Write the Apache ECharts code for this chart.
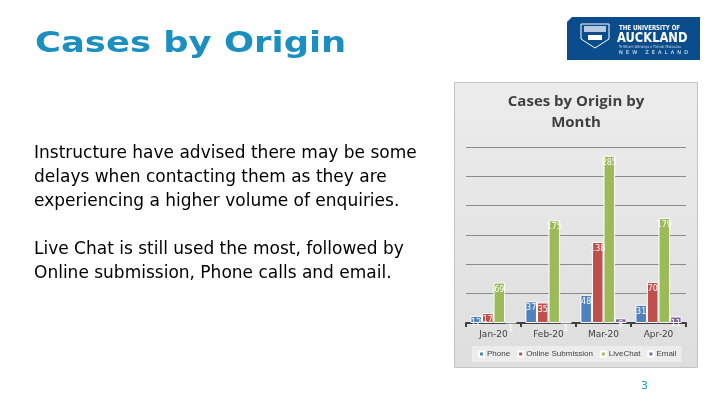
<!DOCTYPE html>
<html><head><meta charset="utf-8">
<script src="https://cdn.jsdelivr.net/npm/echarts@6/dist/echarts.min.js"></script>
<style>html,body{margin:0;padding:0;background:#fff}#c{width:720px;height:405px}</style>
</head><body><div id="c"></div>
<script>
const months = ['Jan-20','Feb-20','Mar-20','Apr-20'];
const phone = [12, 37, 48, 31];
const online = [17, 35, 138, 70];
const liveChat = [69, 175, 285, 179];
const email = [1, 1, 8, 11];
const seriesNames = ['Phone','Online Submission','LiveChat','Email'];
const colors = ['#4f81bd','#c0504d','#9bbb59','#8064a2'];

const chart = echarts.init(document.getElementById('c'), null, {renderer:'canvas'});
function bar(name, data, color){
  return {
    name, type:'bar', data, barGap:'0%', barCategoryGap:'16%',
    itemStyle:{color, borderColor:'#ffffff', borderWidth:1},
    label:{show:true, position:'insideTop', color:'#ffffff', fontSize:8, fontFamily:'DejaVu Sans', distance:3},
    z:3
  };
}
const bodyFont = '17px "DejaVu Sans", Verdana, sans-serif';
chart.setOption({
  animation:false,
  color:colors,
  title:{
    text:'Cases by Origin by\nMonth', left:571, top:86, textAlign:'center',
    textStyle:{fontSize:15, fontWeight:'bold', color:'#404040', fontFamily:'"Open Sans", sans-serif', lineHeight:21}
  },
  legend:{
    data:seriesNames, left:472, top:346, itemWidth:5, itemHeight:5, itemGap:7, icon:'rect',
    backgroundColor:'#ececec', padding:[4,5,4,6],
    textStyle:{fontSize:8, color:'#404040', fontFamily:'"Liberation Sans", sans-serif', padding:[0,0,0,-2]}
  },
  grid:{left:466, right:34, top:147, bottom:82},
  xAxis:{
    type:'category', data:months,
    axisLine:{lineStyle:{color:'#404040', width:2}},
    axisTick:{show:true, alignWithLabel:false, length:4, lineStyle:{color:'#404040', width:2}},
    axisLabel:{fontSize:9, color:'#404040', margin:7, fontFamily:'"DejaVu Sans", sans-serif'}
  },
  yAxis:{
    type:'value', min:0, max:300, interval:50,
    axisLabel:{show:false}, axisLine:{show:false}, axisTick:{show:false},
    splitLine:{lineStyle:{color:'#8a8a8a', width:1}}
  },
  series:[bar(seriesNames[0], phone, colors[0]), bar(seriesNames[1], online, colors[1]),
          bar(seriesNames[2], liveChat, colors[2]), bar(seriesNames[3], email, colors[3])],
  graphic:[
    {type:'rect', z:-10, shape:{x:454.5, y:82.5, width:243, height:285},
     style:{fill:new echarts.graphic.LinearGradient(0,0,0,1,[{offset:0,color:'#ececec'},{offset:1,color:'#dedede'}]), stroke:'#c4c4c4', lineWidth:1}},
    {type:'text', x:35, y:30, scaleX:1.22, style:{text:'Cases by Origin', font:'bold 29px "DejaVu Sans", Verdana, sans-serif', fill:'#1a8fc0'}},
    {type:'text', left:34, top:142, style:{text:'Instructure have advised there may be some\ndelays when contacting them as they are\nexperiencing a higher volume of enquiries.', font:bodyFont, fill:'#000', lineHeight:24}},
    {type:'text', left:34, top:238, style:{text:'Live Chat is still used the most, followed by\nOnline submission, Phone calls and email.', font:bodyFont, fill:'#000', lineHeight:24}},
    {type:'text', left:641, top:381, style:{text:'3', font:'11px "DejaVu Sans", sans-serif', fill:'#1a9ab0'}},
    {type:'group', x:567, y:17, children:[
      {type:'polygon', shape:{points:[[5,0],[133,0],[133,43],[0,43],[0,5]]}, style:{fill:'#0a4c8c'}},
      {type:'polygon', shape:{points:[[14,7],[42,7],[42,22],[28,31],[14,22]]}, style:{fill:'none', stroke:'#ffffff', lineWidth:1}},
      {type:'rect', shape:{x:17, y:9, width:22, height:6}, style:{fill:'#b7c9e2'}},
      {type:'rect', shape:{x:21, y:18, width:14, height:5}, style:{fill:'#ffffff'}},
      {type:'text', x:52, y:8, scaleX:0.78, style:{text:'THE UNIVERSITY OF', font:'bold 7px "DejaVu Sans", sans-serif', fill:'#ffffff'}},
      {type:'text', x:50, y:14, scaleX:0.82, style:{text:'AUCKLAND', font:'bold 14px "DejaVu Sans", sans-serif', fill:'#ffffff'}},
      {type:'text', x:52, y:28, scaleX:0.78, style:{text:'Te Whare Wānanga o Tāmaki Makaurau', font:'4px "DejaVu Sans", sans-serif', fill:'#c8d6ea'}},
      {type:'text', x:52, y:33, style:{text:'N  E  W     Z  E  A  L  A  N  D', font:'5px "DejaVu Sans", sans-serif', fill:'#ffffff'}}
    ]}
  ]
});
</script></body></html>
